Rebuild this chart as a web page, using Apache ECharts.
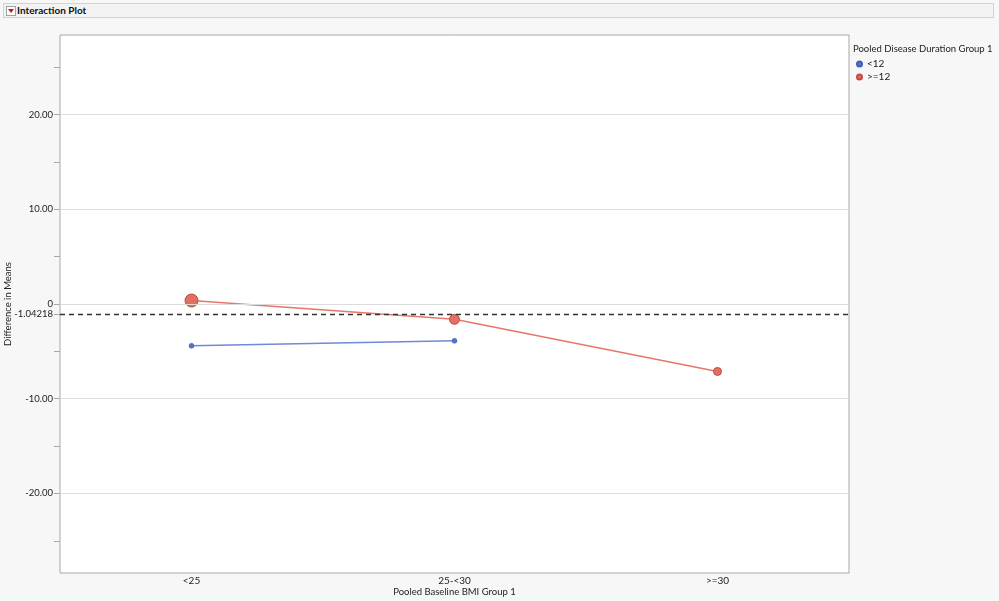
<!DOCTYPE html>
<html>
<head>
<meta charset="utf-8">
<script src="https://cdn.jsdelivr.net/npm/echarts@6/dist/echarts.min.js"></script>
<style>
  html, body { margin: 0; padding: 0; background: #f7f7f7; }
  #wrap { position: relative; width: 999px; height: 601px; overflow: hidden; }
  #hdr { position: absolute; left: 3px; top: 3px; width: 989px; height: 13px; border: 1px solid #d2d2d2; background: #f3f3f3;
         font-family: Lato, "Open Sans", Roboto, sans-serif; font-size: 10px; font-weight: bold; color: #111; line-height: 13px; }
  #icon { position: absolute; left: 2px; top: 2px; width: 8px; height: 8px; border: 1px solid #a0a0a0; background: #fff; }
  #icon:after { content: ""; position: absolute; left: 1px; top: 2px; border-left: 3px solid transparent; border-right: 3px solid transparent; border-top: 4px solid #d01010; }
  #hdr span { position: absolute; left: 13px; top: 0; }
  #chart { position: absolute; left: 0; top: 0; width: 999px; height: 601px; }
</style>
</head>
<body>
<div id="wrap">
  <div id="chart"></div>
  <div id="hdr"><div id="icon"></div><span>Interaction Plot</span></div>
</div>
<script>
const categories = ['<25', '25-<30', '>=30'];
const seriesNames = ['<12', '>=12'];
const under12 = [-4.41, -3.89, null];
const over12 = [0.37, -1.62, -7.12];
const under12Sizes = [5, 5, 0];
const over12Sizes = [13, 10, 8];
const refValue = -1.04218;
const refLabel = '-1.04218';
const yMajorTicks = [-20, -10, 0, 10, 20];
const yMinorTicks = [-25, -15, -5, 5, 15, 25];
const yMin = -28.4, yMax = 28.4;
const xTitle = 'Pooled Baseline BMI Group 1';
const yTitle = 'Difference in Means';
const legendTitle = 'Pooled Disease Duration Group 1';

const FONT = 'Lato, "Open Sans", Roboto, sans-serif';
const blueLine = '#6f8ad6', blueDot = '#5673c8';
const redLine = '#e8766a', redDot = '#e07062', redEdge = '#c44c3e';

const chart = echarts.init(document.getElementById('chart'));
chart.setOption({
  backgroundColor: 'transparent',
  animation: false,
  textStyle: { fontFamily: FONT },
  title: {
    text: legendTitle, left: 848, top: 39,
    textStyle: { fontFamily: FONT, fontSize: 9.5, fontWeight: 'normal', color: '#222' }
  },
  legend: {
    data: seriesNames, orient: 'vertical', left: 851, top: 54,
    icon: 'circle', itemWidth: 5, itemHeight: 5, itemGap: 3,
    textStyle: { fontFamily: FONT, fontSize: 10, color: '#222' }
  },
  grid: {
    left: 60, top: 35, right: 150, bottom: 28,
    containLabel: false, outerBoundsMode: 'none',
    show: true, backgroundColor: '#ffffff', borderColor: '#a8a8a8', borderWidth: 1
  },
  xAxis: {
    type: 'category', data: categories, boundaryGap: true,
    axisLine: { show: false }, axisTick: { show: false },
    axisLabel: { margin: 3, fontSize: 10, color: '#222', fontFamily: FONT },
    name: xTitle, nameLocation: 'middle', nameGap: 14, nameMoveOverlap: false,
    nameTextStyle: { fontSize: 9.5, color: '#222', fontFamily: FONT }
  },
  yAxis: {
    type: 'value', min: yMin, max: yMax,
    axisLine: { show: false },
    axisTick: { show: true, length: 6, customValues: yMajorTicks.concat(yMinorTicks).concat([refValue]), lineStyle: { color: '#a8a8a8' } },
    axisLabel: {
      customValues: yMajorTicks.concat([refValue]), margin: 7, fontSize: 9.5, color: '#222', fontFamily: FONT,
      formatter: v => Math.abs(v - refValue) < 1e-6 ? refLabel : (v === 0 ? '0' : v.toFixed(2))
    },
    splitLine: { show: false },
    name: yTitle, nameLocation: 'middle', nameGap: 47, nameMoveOverlap: false,
    nameTextStyle: { fontSize: 9.5, color: '#222', fontFamily: FONT }
  },
  series: [
    {
      name: '__grid', type: 'line', data: [], silent: true, z: 1,
      markLine: {
        silent: true, symbol: 'none', label: { show: false },
        lineStyle: { color: '#dcdcdc', type: 'solid', width: 1 },
        data: yMajorTicks.map(v => ({ yAxis: v }))
      }
    },
    {
      name: seriesNames[0], type: 'line', z: 3,
      data: under12.map((v, i) => ({ value: v, symbolSize: under12Sizes[i] })),
      symbol: 'circle', showSymbol: true,
      lineStyle: { color: blueLine, width: 1.5 },
      itemStyle: { color: blueDot, borderColor: '#3f5fb8', borderWidth: 0.5 },
      color: blueDot
    },
    {
      name: seriesNames[1], type: 'line', z: 3,
      data: over12.map((v, i) => ({ value: v, symbolSize: over12Sizes[i] })),
      symbol: 'circle', showSymbol: true,
      lineStyle: { color: redLine, width: 1.5 },
      itemStyle: { color: redDot, borderColor: redEdge, borderWidth: 1 },
      color: redDot,
      markLine: {
        silent: true, symbol: 'none', label: { show: false },
        lineStyle: { color: '#333', type: [5, 4], width: 1.3 },
        data: [{ yAxis: refValue }]
      }
    }
  ]
});
</script>
</body>
</html>
